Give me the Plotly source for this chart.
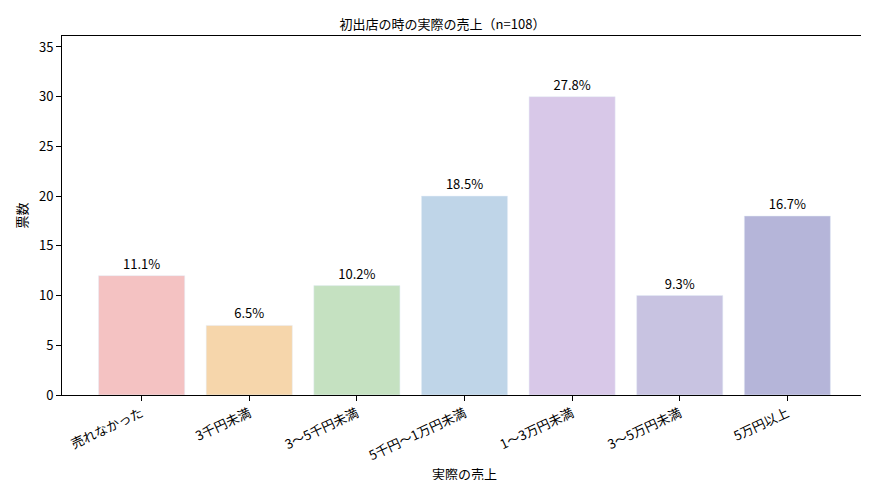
import plotly.graph_objects as go

categories = ['売れなかった', '3千円未満', '3〜5千円未満', '5千円〜1万円未満', '1〜3万円未満', '3〜5万円未満', '5万円以上']
votes = [12, 7, 11, 20, 30, 10, 18]
pct_labels = ['11.1%', '6.5%', '10.2%', '18.5%', '27.8%', '9.3%', '16.7%']
colors = ['#f4c2c2', '#f6d6ab', '#c5e1c1', '#bfd5e8', '#d8c8e8', '#c8c3e1', '#b5b5d9']

fig = go.Figure(go.Bar(x=categories, y=votes, marker_color=colors, width=0.8,
                       text=pct_labels, textposition='outside', cliponaxis=False,
                       textfont=dict(size=13, color='black')))
fig.update_layout(
    width=869, height=480, plot_bgcolor='white', paper_bgcolor='white',
    font=dict(family='Noto Sans CJK JP', size=13, color='black'),
    title=dict(text='初出店の時の実際の売上（n=108）', x=0.5, xanchor='center', y=0.965, yanchor='middle',
               font=dict(size=13, color='black')),
    margin=dict(l=54, r=9, t=28, b=91), showlegend=False,
)
fig.update_xaxes(title=dict(text='実際の売上', font=dict(size=13, color='black'), standoff=6),
                 tickangle=-25, showline=True, mirror=True, linecolor='black',
                 ticks='outside', tickcolor='black', range=[-0.74, 6.74],
                 tickfont=dict(size=13, color='black'))
fig.update_yaxes(title=dict(text='票数', font=dict(size=13, color='black'), standoff=8),
                 range=[0, 36.1], dtick=5, showline=True, mirror=True, linecolor='black',
                 ticks='outside', tickcolor='black', showgrid=False, zeroline=False,
                 tickfont=dict(size=13, color='black'))
fig.write_html('out.html')
